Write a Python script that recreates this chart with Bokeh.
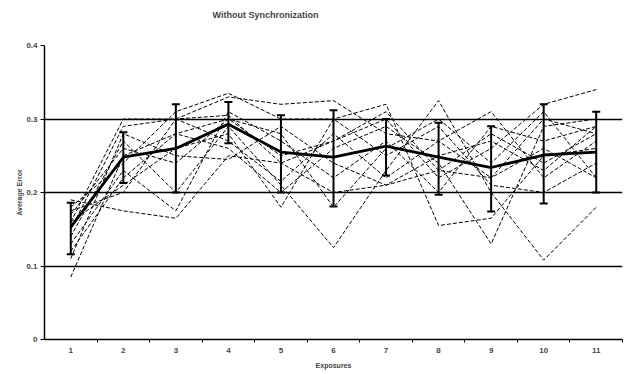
from bokeh.plotting import figure
from bokeh.models import FixedTicker, Whisker, ColumnDataSource, Range1d, Title
from bokeh.embed import file_html
from bokeh.resources import INLINE

exposures = [1, 2, 3, 4, 5, 6, 7, 8, 9, 10, 11]
tick_labels = {0: "0", 0.1: "0.1", 0.2: "0.2", 0.3: "0.3", 0.4: "0.4"}

mean_err = [0.153, 0.248, 0.260, 0.293, 0.255, 0.248, 0.263, 0.248, 0.234, 0.251, 0.255]
err_upper = [0.186, 0.282, 0.320, 0.323, 0.305, 0.312, 0.300, 0.295, 0.290, 0.320, 0.310]
err_lower = [0.116, 0.213, 0.200, 0.267, 0.200, 0.181, 0.223, 0.197, 0.174, 0.185, 0.200]

s1 = [0.085, 0.25, 0.28, 0.30, 0.25, 0.27, 0.30, 0.22, 0.26, 0.32, 0.34]
s2 = [0.19, 0.175, 0.165, 0.25, 0.24, 0.20, 0.21, 0.23, 0.28, 0.24, 0.28]
s3 = [0.16, 0.30, 0.30, 0.33, 0.32, 0.325, 0.28, 0.27, 0.22, 0.30, 0.28]
s4 = [0.14, 0.27, 0.20, 0.29, 0.21, 0.125, 0.23, 0.325, 0.20, 0.108, 0.18]
s5 = [0.18, 0.24, 0.31, 0.335, 0.30, 0.30, 0.32, 0.155, 0.165, 0.25, 0.26]
s6 = [0.12, 0.22, 0.28, 0.26, 0.20, 0.26, 0.29, 0.24, 0.13, 0.29, 0.30]
s7 = [0.15, 0.29, 0.30, 0.27, 0.215, 0.28, 0.22, 0.27, 0.31, 0.22, 0.27]
s8 = [0.17, 0.26, 0.24, 0.30, 0.28, 0.18, 0.26, 0.30, 0.24, 0.31, 0.22]
s9 = [0.13, 0.23, 0.175, 0.31, 0.27, 0.22, 0.27, 0.20, 0.29, 0.27, 0.29]
s10 = [0.16, 0.21, 0.26, 0.28, 0.18, 0.30, 0.25, 0.29, 0.21, 0.20, 0.24]
s11 = [0.11, 0.28, 0.25, 0.245, 0.29, 0.24, 0.21, 0.25, 0.27, 0.23, 0.29]
s12 = [0.175, 0.20, 0.30, 0.305, 0.24, 0.27, 0.31, 0.23, 0.22, 0.26, 0.22]
series = [s1, s2, s3, s4, s5, s6, s7, s8, s9, s10, s11, s12]

title_text = "Without Synchronization"
x_label = "Exposures"
y_label = "Average Error"

FONT = "Liberation Sans"

p = figure(width=624, height=372, output_backend="svg", toolbar_location=None,
           title=None,
           x_range=Range1d(0.5, 11.5), y_range=Range1d(0, 0.4),
           min_border_left=44, min_border_right=2, min_border_top=45, min_border_bottom=33)
p.outline_line_color = None
p.background_fill_color = "white"

# spacer (nearest the frame), then the visible title above it
p.add_layout(Title(text=" ", text_font=FONT, text_font_size="9px", standoff=14), "above")
p.add_layout(Title(text=title_text, text_font=FONT, text_font_size="9px",
                   text_font_style="bold", align="left", offset=168, standoff=0), "above")

for s in series:
    p.line(exposures, s, line_color="black", line_width=1, line_dash="4 2")

p.line(exposures, mean_err, line_color="black", line_width=2.8)
src = ColumnDataSource(dict(x=exposures, upper=err_upper, lower=err_lower))
w = Whisker(source=src, base="x", upper="upper", lower="lower",
            line_color="black", line_width=2)
w.upper_head.size = 8
w.lower_head.size = 8
w.upper_head.line_width = 2
w.lower_head.line_width = 2
p.add_layout(w)

p.xaxis.ticker = FixedTicker(ticks=exposures, minor_ticks=[x + 0.5 for x in exposures])
p.xaxis.major_tick_out = 0
p.xaxis.major_tick_in = 0
p.xaxis.minor_tick_out = 3
p.xaxis.minor_tick_in = 0
p.xaxis.axis_line_color = "black"
p.xaxis.axis_line_width = 1.5
p.xaxis.major_label_standoff = 5
p.xaxis.axis_label = x_label
p.xaxis.axis_label_standoff = 6

p.yaxis.ticker = FixedTicker(ticks=list(tick_labels.keys()), minor_ticks=[])
p.yaxis.major_label_overrides = tick_labels
p.yaxis.major_tick_out = 4
p.yaxis.major_tick_in = 0
p.yaxis.axis_line_color = "black"
p.yaxis.axis_line_width = 1.5
p.yaxis.major_label_standoff = 3
p.yaxis.axis_label = y_label
p.yaxis.axis_label_standoff = 0

for ax in (p.xaxis, p.yaxis):
    ax.major_label_text_font = FONT
    ax.major_label_text_font_size = "8px"
    ax.major_label_text_font_style = "bold"
    ax.axis_label_text_font = FONT
    ax.axis_label_text_font_size = "7px"
    ax.axis_label_text_font_style = "bold"

p.xgrid.grid_line_color = None
p.ygrid.grid_line_color = "black"
p.ygrid.grid_line_width = 1.5

open("out.html", "w").write(file_html(p, INLINE))
